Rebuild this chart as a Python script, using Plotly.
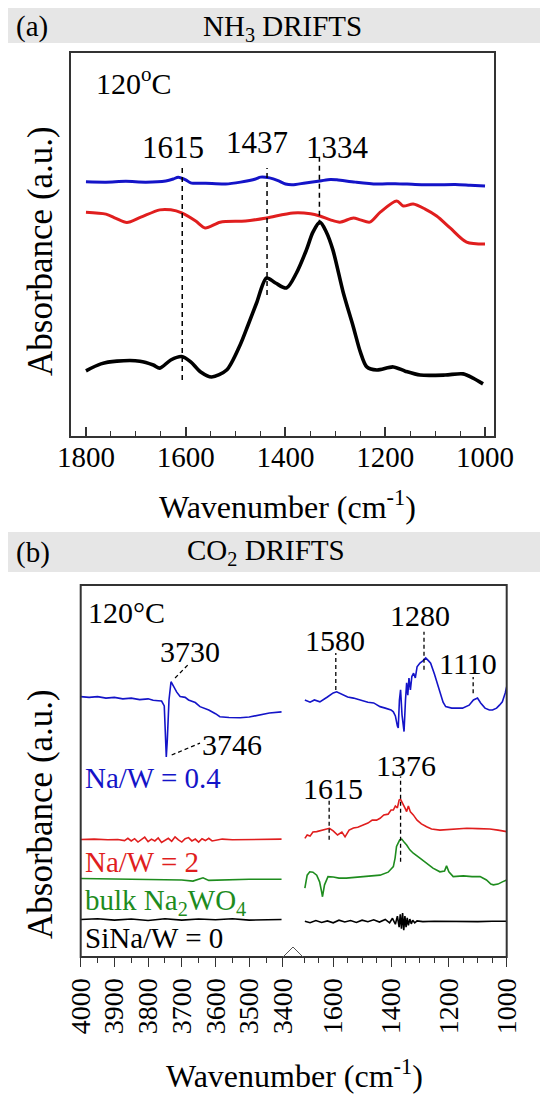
import plotly.graph_objects as go

W, H = 548, 1099
OFF = 8  # page body margin
def px(x): return (x - OFF) / W
def py(y): return 1 - (y - OFF) / H

FONT = "Liberation Serif, Times New Roman, serif"
BLUE = "#1414c8"
RED = "#e01e1e"
GREEN = "#1e8c1e"
BLACK = "#000000"

# ---------------- Panel (a): NH3 DRIFTS ----------------
a_blue_x = [1800, 1760, 1720, 1680, 1640, 1625, 1615, 1600, 1590, 1560, 1520, 1490, 1460, 1450, 1432, 1415,
            1400, 1386, 1360, 1331, 1310, 1297, 1260, 1217, 1180, 1140, 1100, 1060, 1030, 1000]
a_blue_y = [66.3, 66.2, 66.4, 66.2, 66.5, 67.0, 67.5, 66.8, 66.0, 65.9, 65.7, 66.2, 67.0, 67.5, 67.3, 66.6,
            65.7, 65.5, 66.0, 66.5, 66.9, 66.8, 66.2, 65.7, 65.8, 65.6, 65.5, 65.6, 65.4, 65.2]

a_red_x = [1800, 1760, 1740, 1718, 1690, 1652, 1630, 1608, 1580, 1561, 1531, 1480, 1438, 1385, 1350, 1331, 1310,
           1291, 1264, 1250, 1231, 1210, 1177, 1164, 1144, 1120, 1097, 1070, 1037, 1000]
a_red_y = [58.4, 57.9, 56.8, 55.7, 57.1, 59.0, 59.0, 58.2, 56.1, 54.3, 55.8, 56.1, 56.9, 58.2, 58.0, 57.4, 56.4,
           55.8, 56.9, 56.4, 55.8, 58.4, 61.3, 60.0, 60.5, 59.2, 57.4, 54.3, 50.6, 50.1]

a_black_x = [1800, 1770, 1738, 1692, 1665, 1652, 1630, 1608, 1590, 1570, 1548, 1518, 1491, 1475, 1458, 1438, 1420,
             1398, 1378, 1358, 1345, 1331, 1318, 1305, 1284, 1264, 1250, 1237, 1217, 1184, 1160, 1130, 1080, 1044,
             1024, 1004]
a_black_y = [17.2, 19.0, 19.7, 19.7, 18.7, 17.9, 20.0, 20.9, 19.5, 16.9, 15.6, 17.4, 23.9, 29.1, 34.8, 41.3, 40.0,
             38.7, 42.6, 48.6, 53.2, 55.8, 53.2, 48.6, 37.4, 28.6, 22.1, 18.2, 17.4, 18.2, 17.1, 16.1, 16.1, 16.4,
             15.3, 13.8]

a_peak_labels = ["1615", "1437", "1334"]
a_peak_x = [1607, 1437, 1332]
a_peak_y0 = [14.8, 36.9, 55.1]
a_peak_y1 = [70.1, 69.9, 73.2]
a_label_x = [1626, 1457, 1295]
a_label_y = [75.1, 76.4, 75.1]

a_ticks = [1800, 1600, 1400, 1200, 1000]

# ---------------- Panel (b): CO2 DRIFTS ----------------
bL_blue_x = [4000, 3975, 3950, 3925, 3900, 3875, 3850, 3825, 3800, 3785, 3770, 3760, 3752, 3748, 3746, 3743, 3738,
             3732, 3725, 3715, 3705, 3690, 3680, 3660, 3646, 3620, 3600, 3587, 3560, 3527, 3500, 3468, 3440, 3404]
bL_blue_y = [70.0, 69.8, 70.0, 69.6, 69.8, 69.4, 69.6, 69.2, 69.4, 69.0, 68.9, 68.8, 67.5, 58.3, 53.8, 58.3, 69.1,
             74.0, 72.8, 71.2, 70.0, 69.8, 69.1, 68.4, 67.3, 66.4, 65.4, 64.6, 64.4, 64.3, 64.5, 65.1, 65.6, 65.9]

bL_red_x = [4000, 3960, 3920, 3890, 3870, 3860, 3850, 3840, 3830, 3820, 3810, 3800, 3790, 3780, 3770, 3760, 3750,
            3740, 3730, 3720, 3710, 3700, 3690, 3680, 3670, 3660, 3650, 3640, 3630, 3620, 3610, 3580, 3550, 3500,
            3450, 3404]
bL_red_y = [31.6, 31.7, 31.5, 31.6, 31.3, 31.9, 31.2, 31.8, 30.9, 31.6, 32.2, 31.0, 31.7, 31.2, 32.0, 30.8, 31.4,
            31.9, 31.1, 32.3, 31.5, 30.9, 31.8, 32.1, 31.2, 31.7, 30.9, 31.8, 31.3, 31.9, 31.2, 31.7, 31.5, 31.6,
            31.6, 31.7]

bL_green_x = [4000, 3900, 3800, 3700, 3667, 3650, 3637, 3620, 3550, 3500, 3404]
bL_green_y = [21.1, 21.0, 20.9, 20.7, 20.4, 20.8, 21.3, 20.6, 20.8, 20.9, 20.9]

bL_black_x = [4000, 3950, 3900, 3850, 3800, 3750, 3700, 3650, 3600, 3550, 3500, 3450, 3404]
bL_black_y = [10.1, 10.3, 9.9, 10.2, 9.8, 10.3, 9.9, 10.2, 10.0, 10.3, 9.9, 10.1, 10.1]

bR_blue_x = [1698, 1680, 1665, 1646, 1620, 1600, 1588, 1570, 1550, 1530, 1507, 1480, 1460, 1438, 1420, 1400, 1392,
             1385, 1378, 1375, 1371, 1367, 1362, 1358, 1355, 1350, 1346, 1342, 1338, 1333, 1328, 1322, 1316, 1310,
             1300, 1290, 1280, 1270, 1263, 1250, 1234, 1220, 1211, 1190, 1170, 1153, 1130, 1115, 1101, 1090, 1075,
             1060, 1049, 1035, 1025, 1015, 1005, 1000]
bR_blue_y = [69.1, 68.5, 69.1, 68.6, 69.9, 71.0, 71.3, 70.7, 69.9, 69.6, 69.1, 68.5, 68.3, 67.3, 66.9, 66.4, 65.9,
             64.8, 62.1, 61.6, 69.1, 71.8, 65.1, 62.4, 60.6, 69.1, 73.7, 70.4, 75.0, 71.8, 75.4, 76.3, 75.0, 78.0,
             79.0, 79.6, 80.4, 79.6, 79.0, 76.1, 71.8, 68.5, 67.3, 66.9, 66.9, 66.9, 67.7, 69.1, 69.6, 68.3, 66.9,
             66.4, 66.4, 66.9, 67.7, 68.6, 71.0, 72.7]

bR_red_x = [1698, 1690, 1680, 1670, 1657, 1640, 1625, 1613, 1600, 1585, 1570, 1559, 1545, 1530, 1515, 1496, 1480,
            1465, 1450, 1438, 1425, 1410, 1400, 1392, 1385, 1378, 1372, 1367, 1360, 1352, 1346, 1340, 1333, 1323,
            1310, 1295, 1277, 1260, 1231, 1200, 1170, 1138, 1100, 1058, 1030, 1000]
bR_red_y = [31.9, 32.8, 32.5, 33.6, 33.7, 34.1, 34.4, 34.6, 33.9, 32.8, 33.6, 32.3, 34.1, 34.7, 34.9, 35.5, 36.0,
            36.8, 36.8, 37.3, 38.2, 38.4, 39.5, 39.5, 40.6, 40.1, 42.2, 42.4, 41.1, 40.1, 39.1, 40.6, 39.0, 38.2,
            36.8, 35.8, 35.0, 34.4, 34.1, 34.3, 34.5, 34.6, 34.5, 34.4, 34.1, 33.7]

bR_green_x = [1698, 1690, 1681, 1670, 1657, 1647, 1640, 1637, 1630, 1618, 1600, 1580, 1555, 1520, 1480, 1438, 1410,
              1392, 1386, 1381, 1370, 1363, 1355, 1346, 1335, 1323, 1300, 1277, 1255, 1231, 1215, 1208, 1200, 1185,
              1150, 1120, 1092, 1070, 1055, 1046, 1030, 1015, 1000]
bR_green_y = [18.5, 22.0, 22.9, 22.8, 22.0, 20.2, 17.5, 16.2, 19.4, 21.6, 21.5, 21.2, 21.2, 21.4, 21.6, 22.0, 22.8,
              24.3, 26.6, 29.7, 31.5, 31.7, 30.9, 30.1, 28.8, 27.9, 26.6, 25.2, 23.9, 22.9, 23.1, 24.5, 22.9, 21.6,
              21.8, 21.6, 21.6, 20.7, 19.6, 19.4, 19.6, 20.2, 20.7]

bR_black_x = [1698, 1680, 1660, 1640, 1620, 1600, 1580, 1560, 1540, 1520, 1500, 1480, 1460, 1440, 1420, 1405, 1395,
              1385, 1378, 1372, 1368, 1364, 1360, 1356, 1352, 1348, 1344, 1340, 1335, 1330, 1325, 1318, 1310, 1290,
              1250, 1200, 1150, 1100, 1050, 1000]
bR_black_y = [9.6, 9.2, 9.8, 9.3, 9.7, 9.2, 9.9, 9.4, 9.8, 9.3, 9.9, 9.5, 10.0, 9.4, 10.1, 9.2, 10.4, 8.8, 11.0,
              8.0, 11.5, 7.6, 11.8, 7.2, 11.0, 8.0, 10.5, 8.5, 10.2, 8.9, 9.9, 9.2, 9.7, 9.5, 9.6, 9.5, 9.6, 9.5,
              9.6, 9.6]

bR_peak_labels = ["1580", "1280", "1110", "1376", "1615"]
bR_peak_x = [1591, 1286, 1116, 1367, 1614]
bR_peak_y0 = [71.8, 77.2, 70.9, 25.6, 31.5]
bR_peak_y1 = [81.7, 87.4, 75.3, 48.5, 42.2]
bR_label_x = [1594, 1300, 1134, 1347, 1600]
bR_label_y = [85.2, 91.9, 79.0, 51.6, 45.3]

bL_peak_labels = ["3730", "3746"]
bL_lead_x0 = [3720, 3730]
bL_lead_x1 = [3682, 3646]
bL_lead_y0 = [75.0, 54.3]
bL_lead_y1 = [78.5, 57.5]
bL_label_x = [3676, 3552]
bL_label_y = [82.1, 57.0]

bL_ticks = [4000, 3900, 3800, 3700, 3600, 3500, 3400]
bR_ticks = [1600, 1400, 1200, 1000]

series_names = ["Na/W = 0.4", "Na/W = 2", "bulk Na<sub>2</sub>WO<sub>4</sub>", "SiNa/W = 0"]
series_colors = [BLUE, RED, GREEN, BLACK]

fig = go.Figure()

for xs, ys, c, w in [(a_blue_x, a_blue_y, BLUE, 3), (a_red_x, a_red_y, RED, 3), (a_black_x, a_black_y, BLACK, 3.6)]:
    fig.add_trace(go.Scatter(x=xs, y=ys, mode="lines", line=dict(color=c, width=w, shape="spline", smoothing=0.8),
                             xaxis="x", yaxis="y", showlegend=False, hoverinfo="skip"))
for xv, y0, y1 in zip(a_peak_x, a_peak_y0, a_peak_y1):
    fig.add_trace(go.Scatter(x=[xv, xv], y=[y0, y1], mode="lines",
                             line=dict(color=BLACK, width=1.5, dash="5px,4px"),
                             xaxis="x", yaxis="y", showlegend=False, hoverinfo="skip"))

for xs, ys, c in [(bL_blue_x, bL_blue_y, BLUE), (bL_red_x, bL_red_y, RED),
                  (bL_green_x, bL_green_y, GREEN), (bL_black_x, bL_black_y, BLACK)]:
    fig.add_trace(go.Scatter(x=xs, y=ys, mode="lines", line=dict(color=c, width=1.6),
                             xaxis="x2", yaxis="y2", showlegend=False, hoverinfo="skip"))
for xs, ys, c in [(bR_blue_x, bR_blue_y, BLUE), (bR_red_x, bR_red_y, RED),
                  (bR_green_x, bR_green_y, GREEN), (bR_black_x, bR_black_y, BLACK)]:
    fig.add_trace(go.Scatter(x=xs, y=ys, mode="lines", line=dict(color=c, width=1.6),
                             xaxis="x3", yaxis="y3", showlegend=False, hoverinfo="skip"))
for xv, y0, y1 in zip(bR_peak_x, bR_peak_y0, bR_peak_y1):
    fig.add_trace(go.Scatter(x=[xv, xv], y=[y0, y1], mode="lines",
                             line=dict(color=BLACK, width=1.3, dash="4px,3px"),
                             xaxis="x3", yaxis="y3", showlegend=False, hoverinfo="skip"))
for x0, x1, y0, y1 in zip(bL_lead_x0, bL_lead_x1, bL_lead_y0, bL_lead_y1):
    fig.add_trace(go.Scatter(x=[x0, x1], y=[y0, y1], mode="lines",
                             line=dict(color=BLACK, width=1.3, dash="4px,3px"),
                             xaxis="x2", yaxis="y2", showlegend=False, hoverinfo="skip"))

ann = []
def txt(text, x, y, size, xref="paper", yref="paper", xanchor="center", color=BLACK, angle=0, yanchor="middle"):
    ann.append(dict(text=text, x=x, y=y, xref=xref, yref=yref, xanchor=xanchor, yanchor=yanchor,
                    showarrow=False, textangle=angle, borderpad=0,
                    font=dict(family=FONT, size=size, color=color)))

txt("(a)", px(15), py(8.5), 29, xanchor="left", yanchor="top")
txt("NH<sub>3</sub> DRIFTS", px(282), py(8.5), 29, yanchor="top")
txt("(b)", px(15), py(552), 29, xanchor="left")
txt("CO<sub>2</sub> DRIFTS", px(266), py(552), 29)

txt("120<sup>o</sup>C", px(95), py(81), 30, xanchor="left")
for lab, lx, ly in zip(a_peak_labels, a_label_x, a_label_y):
    txt(lab, lx, ly, 31, xref="x", yref="y")
txt("Wavenumber (cm<sup>-1</sup>)", px(287), py(505), 32)
txt("Absorbance (a.u.)", px(40), py(251), 35, angle=-90)

txt("120°C", px(87), py(612), 30, xanchor="left")
for lab, lx, ly in zip(bR_peak_labels, bR_label_x, bR_label_y):
    txt(lab, lx, ly, 30, xref="x3", yref="y3")
for lab, lx, ly in zip(bL_peak_labels, bL_label_x, bL_label_y):
    txt(lab, lx, ly, 30, xref="x2", yref="y2")
for name, c, yy in zip(series_names, series_colors, [778, 862, 902, 938]):
    txt(name, px(84), py(yy), 29, xanchor="left", color=c)
txt("Wavenumber (cm<sup>-1</sup>)", px(294), py(1074), 32)
txt("Absorbance (a.u.)", px(40), py(814), 35, angle=-90)

shapes = [
    dict(type="rect", xref="paper", yref="paper", x0=px(0), x1=px(560), y0=py(43), y1=py(3),
         fillcolor="#e6e6e6", line=dict(width=0), layer="below"),
    dict(type="rect", xref="paper", yref="paper", x0=px(8), x1=px(560), y0=py(572), y1=py(532),
         fillcolor="#e6e6e6", line=dict(width=0), layer="below"),
    dict(type="rect", xref="paper", yref="paper", x0=px(70), x1=px(495), y0=py(437), y1=py(52),
         line=dict(color="#333333", width=2)),
    dict(type="rect", xref="paper", yref="paper", x0=px(80.7), x1=px(506.7), y0=py(957), y1=py(585),
         line=dict(color="#333333", width=2)),
    dict(type="path", xref="paper", yref="paper",
         path=f"M {px(283)},{py(957)} L {px(293)},{py(947)} L {px(303)},{py(957)}",
         line=dict(color="#555555", width=1)),
]

tickfont_a = dict(family=FONT, size=29, color=BLACK)
tickfont_b = dict(family=FONT, size=28, color=BLACK)
common = dict(showgrid=False, zeroline=False, showline=False, automargin=False)
fig.update_layout(
    width=W, height=H, margin=dict(l=0, r=0, t=0, b=0, pad=0, autoexpand=False),
    paper_bgcolor="white", plot_bgcolor="rgba(0,0,0,0)",
    showlegend=False, annotations=ann, shapes=shapes,
    xaxis=dict(domain=[px(70), px(495)], anchor="y", range=[1832, 980], tickvals=a_ticks,
               ticks="inside", ticklen=10, tickwidth=1.5, tickcolor="#333333", tickfont=tickfont_a,
               minor=dict(dtick=50, tick0=1000, ticks="inside", ticklen=6, tickwidth=1.2, tickcolor="#333333"),
               **common),
    yaxis=dict(domain=[py(437), py(52)], anchor="x", range=[0, 100], visible=False, automargin=False),
    xaxis2=dict(domain=[px(80.7), px(293)], anchor="y2", range=[4000, 3370], tickvals=bL_ticks,
                ticks="outside", ticklen=9, tickwidth=1.3, tickcolor="#333333", tickangle=-90, tickfont=tickfont_b,
                minor=dict(dtick=50, tick0=4000, ticks="outside", ticklen=5, tickwidth=1.1, tickcolor="#333333"),
                **common),
    yaxis2=dict(domain=[py(957), py(585)], anchor="x2", range=[0, 100], visible=False, automargin=False),
    xaxis3=dict(domain=[px(293), px(506.7)], anchor="y3", range=[1739, 1000], tickvals=bR_ticks,
                ticks="outside", ticklen=9, tickwidth=1.3, tickcolor="#333333", tickangle=-90, tickfont=tickfont_b,
                minor=dict(dtick=50, tick0=1000, ticks="outside", ticklen=5, tickwidth=1.1, tickcolor="#333333"),
                **common),
    yaxis3=dict(domain=[py(957), py(585)], anchor="x3", range=[0, 100], visible=False, automargin=False),
)

fig.write_html("out.html")
